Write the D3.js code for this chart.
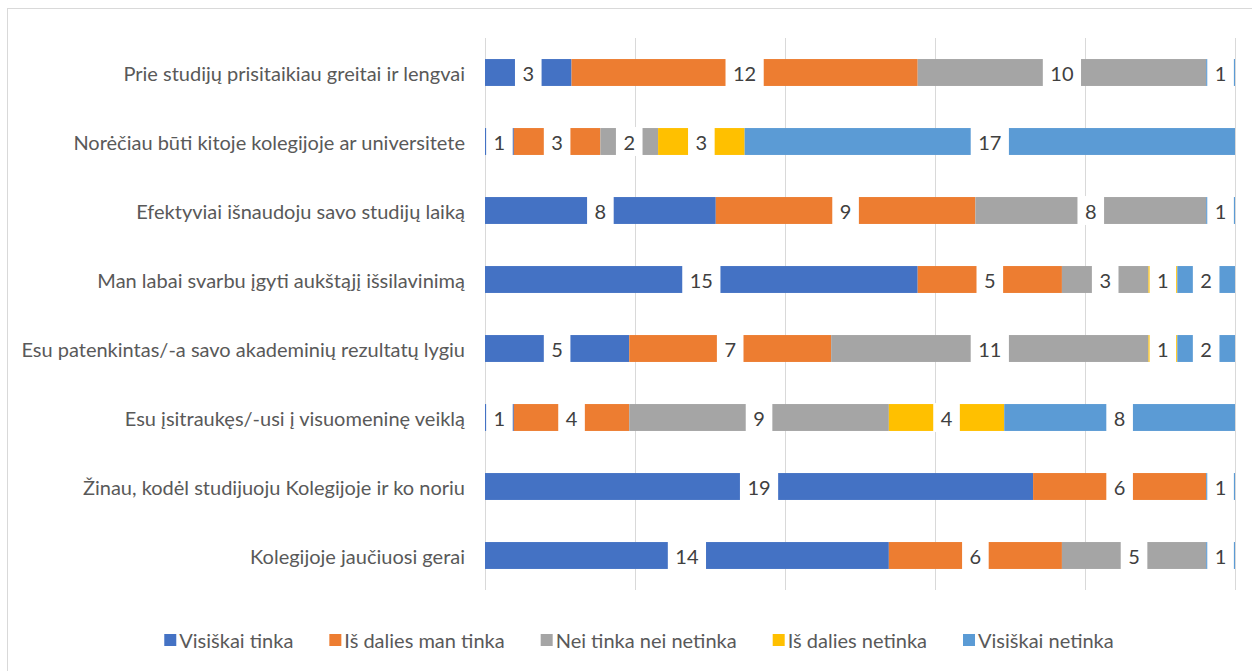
<!DOCTYPE html>
<html>
<head>
<meta charset="utf-8">
<script src="https://cdn.jsdelivr.net/npm/d3@7"></script>
<style>
  body { margin: 0; background: #fff; }
  svg text { font-family: Lato, "Open Sans", sans-serif; }
</style>
</head>
<body>
<div id="chart"></div>
<script>
// categories, top to bottom
var categories = [
  'Prie studijų prisitaikiau greitai ir lengvai',
  'Norėčiau būti kitoje kolegijoje ar universitete',
  'Efektyviai išnaudoju savo studijų laiką',
  'Man labai svarbu įgyti aukštąjį išsilavinimą',
  'Esu patenkintas/-a savo akademinių rezultatų lygiu',
  'Esu įsitraukęs/-usi į visuomeninę veiklą',
  'Žinau, kodėl studijuoju Kolegijoje ir ko noriu',
  'Kolegijoje jaučiuosi gerai'
];
var seriesNames = ['Visiškai tinka', 'Iš dalies man tinka', 'Nei tinka nei netinka', 'Iš dalies netinka', 'Visiškai netinka'];
var colors = ['#4472c4', '#ed7d31', '#a5a5a5', '#ffc000', '#5b9bd5'];
var visiskaiTinka   = [3, 1, 8, 15, 5, 1, 19, 14];
var isDaliesTinka   = [12, 3, 9, 5, 7, 4, 6, 6];
var neiTinka        = [10, 2, 8, 3, 11, 9, 0, 5];
var isDaliesNetinka = [0, 3, 0, 1, 1, 4, 0, 0];
var visiskaiNetinka = [1, 17, 1, 2, 2, 8, 1, 1];
var seriesValues = [visiskaiTinka, isDaliesTinka, neiTinka, isDaliesNetinka, visiskaiNetinka];
var xTicks = [0, 0.2, 0.4, 0.6, 0.8, 1];

var width = 1252, height = 671;
var fontSize = 20;
var svg = d3.select('#chart').append('svg')
  .attr('width', width).attr('height', height);

// chart border
svg.append('rect')
  .attr('x', 7.5).attr('y', 8.5)
  .attr('width', width).attr('height', height)
  .attr('fill', '#fff').attr('stroke', '#d9d9d9');

var x = d3.scaleLinear().domain([0, 1]).range([485, 1235]);
var y = d3.scaleBand().domain(categories).range([38, 590])
  .paddingInner(0.61).paddingOuter(0.305);

// gridlines
svg.append('g').selectAll('line')
  .data(xTicks).enter().append('line')
  .attr('x1', function(d){ return Math.round(x(d)) + 0.5; })
  .attr('x2', function(d){ return Math.round(x(d)) + 0.5; })
  .attr('y1', 38).attr('y2', 590)
  .attr('stroke', '#d9d9d9').attr('stroke-width', 1);

// build rows
var rows = categories.map(function(c, i){
  var obj = { cat: c };
  seriesNames.forEach(function(s, j){ obj[s] = seriesValues[j][i]; });
  return obj;
});
var stack = d3.stack().keys(seriesNames).offset(d3.stackOffsetExpand);
var stacked = stack(rows);

var layers = svg.append('g').selectAll('g')
  .data(stacked).enter().append('g')
  .attr('fill', function(d, i){ return colors[i]; });

layers.selectAll('rect')
  .data(function(d){ return d; }).enter().append('rect')
  .attr('x', function(d){ return x(d[0]); })
  .attr('y', function(d){ return y(d.data.cat); })
  .attr('width', function(d){ return x(d[1]) - x(d[0]); })
  .attr('height', y.bandwidth());

// data labels with white boxes
var labels = [];
stacked.forEach(function(layer, j){
  layer.forEach(function(d){
    var v = d.data[layer.key];
    if (v > 0) labels.push({ v: v, cx: (x(d[0]) + x(d[1])) / 2, cat: d.data.cat });
  });
});
var lg = svg.append('g').selectAll('g')
  .data(labels).enter().append('g');
lg.append('rect').attr('class', 'box').attr('fill', '#fff');
lg.append('text')
  .attr('x', function(d){ return d.cx; })
  .attr('y', function(d){ return y(d.cat) + y.bandwidth() / 2; })
  .attr('text-anchor', 'middle')
  .attr('dominant-baseline', 'central')
  .attr('font-size', fontSize)
  .attr('fill', '#404040')
  .text(function(d){ return d.v; });
lg.each(function(d){
  var g = d3.select(this);
  var w = g.select('text').node().getComputedTextLength() + 15;
  g.select('rect')
    .attr('x', d.cx - w / 2)
    .attr('y', y(d.cat) - 1)
    .attr('width', w)
    .attr('height', y.bandwidth() + 2);
});

// category labels
svg.append('g').selectAll('text')
  .data(categories).enter().append('text')
  .attr('x', 465)
  .attr('y', function(d){ return y(d) + y.bandwidth() / 2; })
  .attr('text-anchor', 'end')
  .attr('dominant-baseline', 'central')
  .attr('font-size', fontSize)
  .attr('fill', '#595959')
  .text(function(d){ return d; });

// legend
var legend = svg.append('g');
var items = legend.selectAll('g')
  .data(seriesNames).enter().append('g');
items.append('rect')
  .attr('width', 12).attr('height', 12)
  .attr('y', 634)
  .attr('fill', function(d, i){ return colors[i]; });
items.append('text')
  .attr('x', 15).attr('y', 640)
  .attr('dominant-baseline', 'central')
  .attr('font-size', fontSize)
  .attr('fill', '#595959')
  .text(function(d){ return d; });
var offs = [], total = 0;
items.each(function(){
  var w = 15 + d3.select(this).select('text').node().getComputedTextLength();
  offs.push({ start: total, w: w });
  total += w + 36;
});
total -= 36;
var lx = 639 - total / 2;
items.attr('transform', function(d, i){ return 'translate(' + (lx + offs[i].start) + ',0)'; });
</script>
</body>
</html>
